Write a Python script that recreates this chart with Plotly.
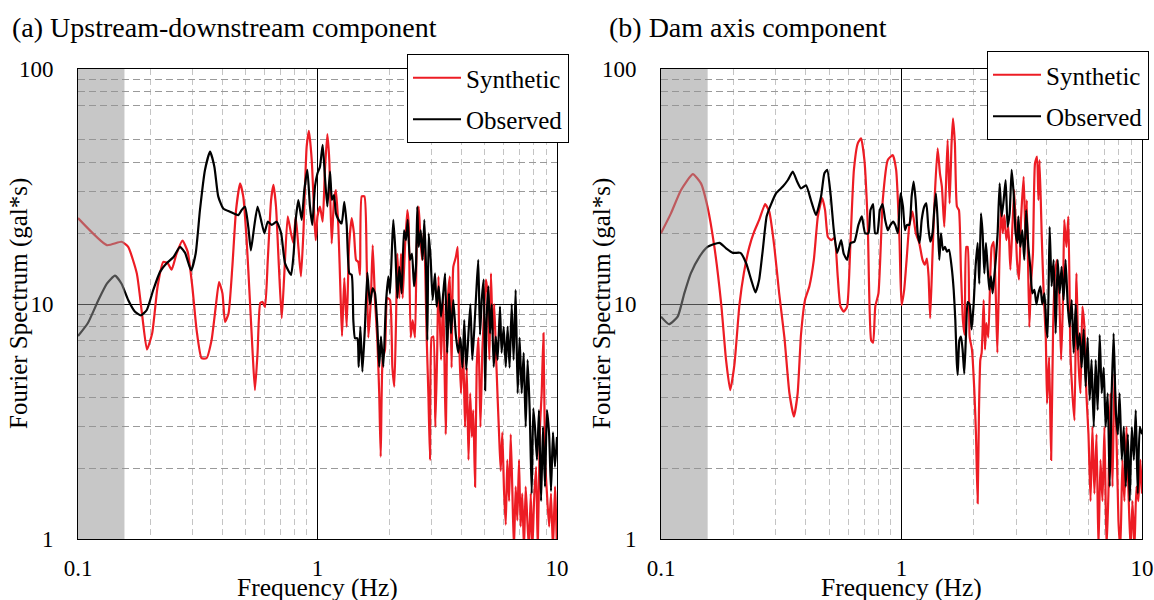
import plotly.graph_objects as go

# ---------------- data ----------------
# (a) Upstream-downstream component
fa_syn = [0.100,0.132,0.152,0.162,0.176,0.185,0.194,0.204,0.215,0.227,
          0.237,0.246,0.258,0.273,0.287,0.300,0.313,0.328,0.344,0.361,
          0.376,0.388,0.401,0.411,0.425,0.441,0.457,0.475,0.490,0.506,
          0.522,0.536,0.548,0.562,0.577,0.590,0.604,0.620,0.640,0.655,
          0.671,0.690,0.709,0.727,0.751,0.775,0.793,0.811,0.832,0.853,
          0.873,0.901,0.921,0.946,0.971,0.983,
          1.000,1.024,1.051,1.074,1.099,1.12,1.146,1.172,1.194,1.222,
          1.250,1.266,1.294,1.324,1.354,1.389,1.42,1.449,1.48,1.505,
          1.53,1.57,1.604,1.63,1.67,1.70,1.738,1.778,1.81,1.836,
          1.87,1.914,1.957,2.008,2.054,2.093,2.128,2.154,2.196,2.232,
          2.268,2.319,2.371,2.402,2.449,2.496,2.553,2.594,2.645,2.68,
          2.731,2.785,2.856,2.903,2.95,2.998,3.046,3.105,3.16,3.20,
          3.28,3.35,3.43,3.50,3.57,3.63,3.69,3.78,3.85,3.90,
          3.97,4.06,4.13,4.20,4.27,4.34,4.41,4.47,4.55,4.62,
          4.70,4.79,4.88,4.98,5.05,5.13,5.22,5.30,5.39,5.47,
          5.56,5.65,5.73,5.82,5.91,6.01,6.11,6.20,6.31,6.41,
          6.51,6.61,6.72,6.83,6.94,7.05,7.16,7.28,7.40,7.52,
          7.64,7.77,7.89,8.02,8.18,8.31,8.49,8.63,8.78,8.92,
          9.08,9.27,9.44,9.62,9.81,10.0]
aa_syn = [23.2,17.8,18.4,17.5,13.5,9.1,6.4,7.5,11.9,15.1,
          14.9,14.0,16.4,18.6,16.7,11.9,7.7,5.88,5.88,7.0,
          9.75,12.4,11.1,8.4,9.1,14.4,25.1,32.6,28.6,18.7,
          10.4,6.2,4.3,6.2,10.1,10.2,9.7,15.4,27.7,32.1,
          26.0,14.4,8.7,13.5,23.6,20.0,18.2,23.6,17.5,13.1,
          20.0,46.7,54.6,41.0,22.8,18.7,
          23.6,26.0,22.4,37.2,52.8,41.0,18.1,27.7,30.5,21.3,
          10.4,7.3,12.9,8.0,17.5,23.2,20.0,15.4,15.1,13.3,
          28.7,28.7,15.4,7.2,10.4,17.8,10.4,7.0,4.17,2.24,
          5.78,6.4,10.6,10.4,5.4,4.45,8.55,16.4,10.6,16.4,
          10.6,17.5,25.1,22.0,7.2,8.55,7.2,17.5,26.0,20.6,
          15.4,20.6,7.27,4.17,2.17,7.2,7.27,3.0,6.2,13.1,
          5.78,11.1,2.79,10.4,13.1,5.36,14.4,15.8,17.5,7.4,
          4.17,6.2,3.0,5.36,2.17,4.17,2.72,3.54,1.67,5.36,
          7.2,3.0,6.4,9.97,12.7,11.1,5.78,13.5,7.4,9.97,
          6.2,3.99,2.79,1.95,2.84,1.6,1.15,2.17,1.45,2.79,
          1.6,0.9,1.67,1.2,2.17,1.13,1.56,0.9,1.67,1.2,
          0.9,1.56,0.9,1.45,2.03,0.9,3.0,4.17,7.5,2.17,
          1.56,1.13,1.56,0.9,1.67,0.9]

fa_obs = [0.100,0.110,0.1217,0.132,0.1427,0.152,0.162,0.173,0.183,0.1937,
          0.2063,0.220,0.2344,0.250,0.2667,0.280,0.2966,0.310,0.323,0.339,
          0.356,0.371,0.385,0.404,0.431,0.467,0.482,0.498,0.514,0.527,
          0.544,0.562,0.581,0.600,0.620,0.644,0.675,0.705,0.732,0.775,
          0.795,0.811,0.832,0.859,0.881,0.907,0.930,0.951,0.976,
          1.0,1.024,1.051,1.074,1.099,1.128,1.149,1.172,1.194,1.225,
          1.261,1.294,1.324,1.358,1.389,1.411,1.434,1.467,1.486,1.51,
          1.54,1.578,1.615,1.656,1.70,1.738,1.778,1.81,1.841,1.883,
          1.93,1.976,2.008,2.047,2.073,2.113,2.154,2.196,2.246,2.297,
          2.342,2.38,2.432,2.48,2.53,2.577,2.61,2.645,2.697,2.749,
          2.793,2.838,2.875,2.912,2.969,3.026,3.094,3.144,3.206,
          3.28,3.35,3.41,3.48,3.54,3.61,3.69,3.78,3.87,3.95,
          4.03,4.10,4.18,4.27,4.35,4.43,4.52,4.60,4.69,4.77,
          4.85,4.94,5.01,5.08,5.17,5.25,5.34,5.44,5.55,5.65,
          5.78,5.87,5.99,6.11,6.22,6.34,6.47,6.59,6.72,6.85,
          6.98,7.12,7.26,7.40,7.54,7.69,7.84,7.96,8.09,8.25,
          8.41,8.58,8.74,8.91,9.08,9.27,9.44,9.62,9.81,10.0]
aa_obs = [7.3,8.3,10.4,12.2,13.2,12.2,10.4,9.27,8.95,9.43,
          11.5,13.7,14.9,15.8,17.5,16.5,13.9,16.4,25.1,37.2,
          44.5,38.4,28.7,25.5,24.7,23.9,25.1,26.0,21.3,16.9,
          21.3,26.0,22.8,20.0,22.4,21.7,22.4,20.0,14.9,13.3,
          16.4,22.8,27.7,22.8,30.5,37.2,26.0,21.7,31.6,
          36.0,38.4,47.6,34.8,26.0,36.6,27.7,29.1,24.3,22.8,
          22.0,27.2,21.7,13.5,13.3,8.55,7.15,7.15,5.4,8.0,
          5.15,8.0,13.6,9.97,11.7,11.1,8.0,5.4,7.27,5.4,
          9.97,13.1,11.1,17.5,22.8,17.0,10.6,14.4,11.1,20.6,
          18.7,22.8,15.4,16.4,11.9,14.4,26.0,17.5,20.6,15.4,
          22.8,14.4,7.0,20.0,15.4,10.4,13.5,9.75,11.9,
          8.83,11.1,13.5,6.2,11.1,7.5,10.4,7.4,6.2,7.2,
          5.36,8.55,5.25,7.5,9.97,5.78,8.0,11.1,15.4,7.4,
          10.4,12.7,4.3,8.55,11.9,7.5,9.97,5.4,7.27,5.78,
          9.75,6.2,8.0,5.4,8.0,5.36,9.97,5.78,11.5,4.17,
          7.2,4.17,6.2,3.0,5.78,3.54,1.56,3.6,3.0,2.17,
          3.54,1.45,3.0,1.67,3.54,2.79,1.6,2.84,2.03,2.72]

# (b) Dam axis component
fb_syn = [0.100,0.110,0.121,0.1356,0.1466,0.156,0.1667,0.178,0.1864,0.194,
          0.202,0.212,0.221,0.233,0.244,0.256,0.271,0.282,0.296,0.310,
          0.326,0.342,0.357,0.370,0.382,0.397,0.414,0.432,0.449,0.468,
          0.481,0.494,0.510,0.526,0.543,0.557,0.575,0.594,0.614,0.634,
          0.658,0.679,0.701,0.724,0.748,0.762,0.778,0.802,0.836,0.877,
          0.920,0.950,0.981,
          1.0,1.026,1.052,1.076,1.111,1.147,1.185,1.223,1.251,1.275,
          1.296,1.316,1.346,1.377,1.413,1.445,1.472,1.506,1.53,1.555,
          1.585,1.615,1.637,1.667,1.70,1.733,1.766,1.80,1.83,1.86,
          1.884,1.92,1.963,2.008,2.04,2.073,2.10,2.127,2.154,2.196,
          2.224,2.253,2.296,2.341,2.371,2.417,2.465,2.504,2.553,2.594,
          2.636,2.678,2.729,2.782,2.836,2.891,
          2.944,3.02,3.08,3.14,3.22,3.28,3.32,3.40,3.45,3.52,
          3.59,3.66,3.71,3.75,3.83,3.90,3.98,4.03,4.11,4.19,
          4.27,4.35,4.43,4.52,4.61,4.70,4.75,4.85,4.94,5.04,
          5.14,5.24,5.34,5.44,5.55,5.65,5.76,5.87,5.99,6.11,
          6.22,6.34,6.47,6.59,6.72,6.85,6.98,7.12,7.25,7.39,
          7.54,7.68,7.83,7.98,8.13,8.29,8.45,8.62,8.79,8.96,
          9.13,9.3,9.48,9.66,9.85,10.0]
ab_syn = [20.0,24.3,30.5,35.7,32.6,26.0,17.5,9.97,5.78,4.3,
          5.53,9.97,13.5,17.5,20.3,22.8,26.6,24.7,17.5,11.1,
          7.2,4.17,3.32,4.17,7.4,10.4,11.9,15.4,23.6,28.2,
          25.1,19.3,18.7,19.1,13.1,9.8,9.27,9.75,18.7,37.2,
          48.3,50.7,41.0,21.7,7.0,6.84,9.75,11.1,27.7,41.0,
          43.0,37.2,18.7,
          9.9,11.5,15.8,21.3,24.7,20.0,18.2,15.4,14.7,15.6,
          13.1,8.7,16.4,29.6,46.0,36.0,31.6,21.3,31.6,49.9,
          26.8,48.3,61.7,48.3,26.0,25.1,13.95,8.55,7.4,17.5,
          17.5,7.27,6.4,4.3,2.79,1.42,3.54,5.78,6.2,10.4,
          6.4,8.3,7.2,13.5,17.5,18.4,11.1,6.2,15.4,26.0,
          20.0,23.9,18.7,21.3,14.0,21.3,
          30.5,15.4,12.7,22.8,34.8,18.7,27.7,8.0,11.9,16.4,
          39.7,42.4,27.7,41.0,19.3,11.1,7.2,3.78,5.95,2.17,
          8.0,13.5,15.4,11.5,5.78,11.1,22.8,17.5,23.6,6.2,
          4.1,3.2,13.5,5.78,4.17,9.75,8.0,4.17,2.79,1.45,
          3.0,1.56,2.79,0.9,2.17,1.45,3.0,0.9,1.56,4.17,
          1.67,5.07,2.79,1.2,0.9,2.17,1.45,3.0,1.56,0.9,
          1.45,0.9,1.67,1.45,2.17,1.56]

fb_obs = [0.100,0.108,0.1173,0.125,0.133,0.144,0.156,0.175,0.186,0.199,
          0.214,0.226,0.237,0.247,0.256,0.265,0.275,0.287,0.301,0.321,
          0.337,0.353,0.368,0.382,0.401,0.420,0.441,0.463,0.478,0.491,
          0.5066,0.523,0.540,0.561,0.575,0.594,0.614,0.637,0.662,0.684,
          0.706,0.729,0.743,0.762,0.777,0.793,0.813,0.834,0.855,0.877,
          0.900,0.923,0.942,0.966,0.991,
          1.014,1.034,1.054,1.078,1.102,1.123,1.145,1.167,1.19,1.213,
          1.244,1.268,1.292,1.317,1.346,1.368,1.391,1.413,1.436,1.459,
          1.487,1.516,1.545,1.576,1.616,1.648,1.674,1.696,1.712,1.74,
          1.768,1.795,1.824,1.854,1.884,1.92,1.957,1.995,2.032,2.073,
          2.106,2.14,2.174,2.21,2.245,2.28,2.318,2.355,2.393,2.432,
          2.47,2.51,2.559,2.609,2.66,2.71,2.763,2.816,2.871,2.926,
          2.983,3.04,
          3.06,3.12,3.18,3.24,3.30,3.37,3.43,3.50,3.57,3.64,
          3.71,3.78,3.85,3.93,4.0,4.05,4.13,4.21,4.29,4.375,
          4.46,4.545,4.63,4.72,4.81,4.91,5.0,5.10,5.2,5.30,
          5.40,5.51,5.61,5.72,5.83,5.94,6.06,6.17,6.30,6.42,
          6.54,6.67,6.80,6.93,7.06,7.20,7.34,7.48,7.62,7.78,
          7.93,8.07,8.24,8.40,8.56,8.73,8.89,9.07,9.25,9.42,
          9.60,9.79,10.0]
ab_obs = [8.83,8.2,8.83,11.1,13.5,15.8,17.5,18.2,17.3,16.5,
          16.5,14.9,12.7,11.2,12.7,17.0,23.6,26.6,29.6,31.6,
          33.7,36.6,33.2,31.0,32.0,27.7,23.9,28.7,36.0,37.2,
          29.6,20.6,16.5,18.7,16.4,15.4,18.2,18.4,21.7,23.6,
          20.0,20.0,25.1,26.6,20.0,20.0,25.1,26.6,22.8,20.6,
          21.7,22.4,21.7,20.0,29.6,
          26.0,20.6,21.7,21.7,28.7,33.2,27.7,20.0,18.2,22.8,
          26.0,26.8,21.3,18.4,20.0,25.1,29.6,22.8,15.4,20.0,
          17.0,17.5,16.7,17.0,14.4,11.5,8.55,5.78,4.99,7.0,
          7.27,6.4,5.05,7.4,10.2,9.97,7.8,9.97,14.4,18.2,
          12.2,24.3,20.0,13.5,18.2,14.4,11.5,13.1,11.1,13.1,
          15.8,20.0,32.6,23.6,27.7,33.7,21.3,24.3,37.2,29.6,
          20.0,18.2,
          23.6,17.5,20.6,15.4,25.1,17.5,14.4,11.1,11.5,9.97,
          11.1,11.9,9.97,11.1,8.0,7.2,21.3,11.9,15.4,7.5,
          15.4,11.1,14.4,10.4,15.4,9.97,8.0,10.4,6.2,9.97,
          6.4,7.5,5.36,7.8,4.45,7.2,3.9,5.78,3.0,5.78,
          3.54,7.4,4.17,5.36,3.0,4.17,1.67,4.17,7.5,3.54,
          2.79,4.17,2.17,3.0,1.67,2.79,1.45,3.0,2.17,3.54,
          1.56,3.0,2.79]

for a, b in [(fa_syn, aa_syn), (fa_obs, aa_obs), (fb_syn, ab_syn), (fb_obs, ab_obs)]:
    assert len(a) == len(b), (len(a), len(b))

panel_titles = ["(a) Upstream-downstream component", "(b) Dam axis component"]
series_names = ["Synthetic", "Observed"]
x_ticks = [0.1, 1, 10]
x_ticktext = ["0.1", "1", "10"]
y_ticks = [1, 10, 100]
y_ticktext = ["1", "10", "100"]
x_minor = [0.2, 0.3, 0.4, 0.5, 0.6, 0.7, 0.8, 0.9, 2, 3, 4, 5, 6, 7, 8, 9]
y_minor = [2, 3, 4, 5, 6, 7, 8, 9, 20, 30, 40, 50, 70, 80, 90]
shade_frac = 0.097   # grey band 0.1 - ~0.157 Hz, as a fraction of the x domain

# ---------------- styling ----------------
W, H = 1154, 600
FONT = "Liberation Serif"
RED = "#ED1C24"
BLACK = "#000000"

fig = go.Figure()

panels = [
    dict(fs=fa_syn, as_=aa_syn, fo=fa_obs, ao=aa_obs, xa="x", ya="y", leg="legend"),
    dict(fs=fb_syn, as_=ab_syn, fo=fb_obs, ao=ab_obs, xa="x2", ya="y2", leg="legend2"),
]
for p in panels:
    fig.add_trace(go.Scatter(x=p["fs"], y=p["as_"], mode="lines", name=series_names[0],
                             line=dict(color=RED, width=2.2, shape="spline", smoothing=0.5),
                             xaxis=p["xa"], yaxis=p["ya"], legend=p["leg"],
                             legendgroup="syn" + p["xa"]))
    fig.add_trace(go.Scatter(x=p["fo"], y=p["ao"], mode="lines", name=series_names[1],
                             line=dict(color=BLACK, width=2.2, shape="spline", smoothing=0.5),
                             xaxis=p["xa"], yaxis=p["ya"], legend=p["leg"],
                             legendgroup="obs" + p["xa"]))

xdom_a = [78 / W, 557 / W]
xdom_b = [661 / W, 1142 / W]
ydom = [1 - 539 / H, 1 - 69 / H]

def xaxis(dom, anchor):
    return dict(type="log", range=[-1, 1], domain=dom, anchor=anchor, automargin=False,
                tickvals=x_ticks, ticktext=x_ticktext, ticks="",
                tickfont=dict(family=FONT, size=23, color="black"),
                showgrid=True, gridcolor="black", gridwidth=1,
                minor=dict(tickvals=x_minor, showgrid=True, gridcolor="#C4C4C4",
                           griddash="6px,4px", gridwidth=1, ticks=""),
                showline=True, linecolor="black", linewidth=1, mirror=True,
                zeroline=False, ticklabelstandoff=8)

def yaxis(anchor):
    return dict(type="log", range=[0, 2], domain=ydom, anchor=anchor, automargin=False,
                tickvals=y_ticks, ticktext=y_ticktext, ticks="",
                tickfont=dict(family=FONT, size=23, color="black"),
                showgrid=True, gridcolor="black", gridwidth=1,
                minor=dict(tickvals=y_minor, showgrid=True, gridcolor="#9A9A9A",
                           griddash="7px,4px", gridwidth=1, ticks=""),
                showline=True, linecolor="black", linewidth=1, mirror=True,
                zeroline=False, ticklabelstandoff=19)

legend_common = dict(bgcolor="white", bordercolor="black", borderwidth=1,
                     font=dict(family=FONT, size=25, color="black"),
                     xanchor="left", yanchor="top", tracegroupgap=6,
                     traceorder="grouped", itemwidth=48)

fig.update_layout(
    width=W, height=H, margin=dict(l=0, r=0, t=0, b=0, autoexpand=False),
    paper_bgcolor="white", plot_bgcolor="white",
    font=dict(family=FONT, color="black"),
    xaxis=xaxis(xdom_a, "y"), yaxis=yaxis("x"),
    xaxis2=xaxis(xdom_b, "y2"), yaxis2=yaxis("x2"),
    legend=dict(x=407 / W, y=1 - 54 / H, **legend_common),
    legend2=dict(x=987 / W, y=1 - 51 / H, **legend_common),
)

# grey band (drawn over the curves, semi-transparent)
for xr, yr in [("x domain", "y domain"), ("x2 domain", "y2 domain")]:
    fig.add_shape(type="rect", xref=xr, yref=yr, x0=0, x1=shade_frac, y0=0, y1=1,
                  fillcolor="rgba(148,148,148,0.52)", line=dict(width=0), layer="above")

# titles and axis labels
ann = []
for i, (xd, tx) in enumerate([(xdom_a, 10), (xdom_b, 607)]):
    ann.append(dict(text=panel_titles[i], x=tx / W, y=1 - 27 / H, xref="paper", yref="paper",
                    xanchor="left", yanchor="middle", showarrow=False,
                    font=dict(family=FONT, size=28, color="black")))
    ann.append(dict(text="Frequency (Hz)", x=(xd[0] + xd[1]) / 2, y=1 - 587 / H,
                    xref="paper", yref="paper", xanchor="center", yanchor="middle",
                    showarrow=False, font=dict(family=FONT, size=25.5, color="black")))
    ann.append(dict(text="Fourier Spectrum (gal*s)", x=(xd[0] * W - 59) / W, y=1 - 304 / H,
                    xref="paper", yref="paper", xanchor="center", yanchor="middle",
                    textangle=-90, showarrow=False,
                    font=dict(family=FONT, size=25, color="black")))
fig.update_layout(annotations=ann)

fig.write_html("out.html")
